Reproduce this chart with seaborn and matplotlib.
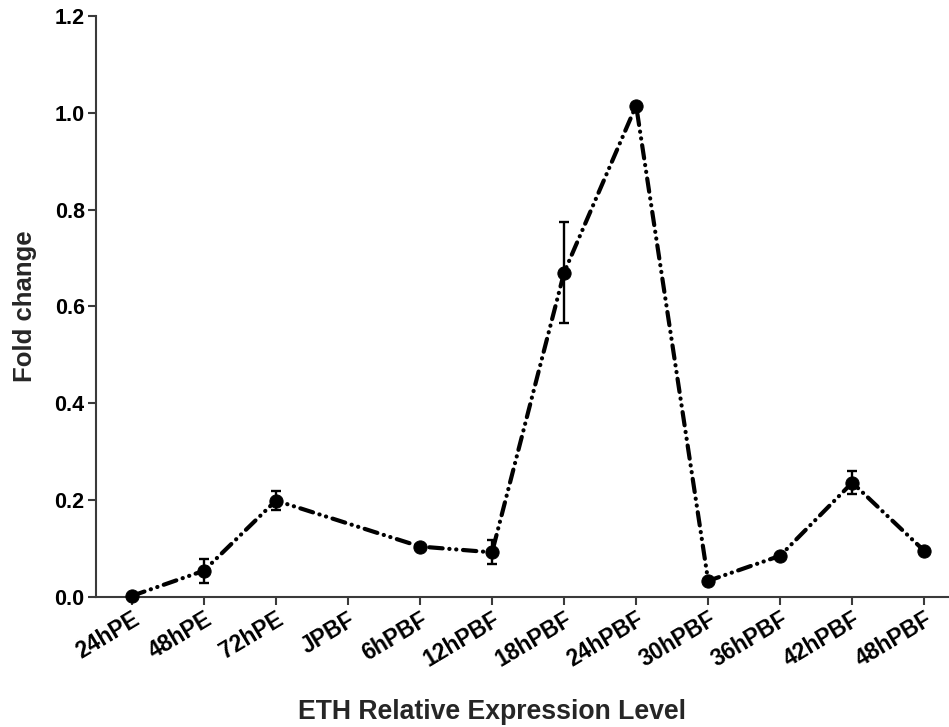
import numpy as np
import pandas as pd
import matplotlib
matplotlib.use("Agg")
import matplotlib.pyplot as plt
import seaborn as sns

# Sampling stages along the x axis
stages = ["24hPE", "48hPE", "72hPE", "JPBF", "6hPBF", "12hPBF",
          "18hPBF", "24hPBF", "30hPBF", "36hPBF", "42hPBF", "48hPBF"]
# Mean fold change per stage (JPBF not measured)
fold_change = [0.002, 0.054, 0.199, np.nan, 0.104, 0.092,
               0.670, 1.015, 0.033, 0.085, 0.236, 0.095]
# Standard error per stage
sem = [0.003, 0.025, 0.020, np.nan, 0.005, 0.025,
       0.105, 0.005, 0.004, 0.004, 0.024, 0.004]

y_ticks = [0.0, 0.2, 0.4, 0.6, 0.8, 1.0, 1.2]

df = pd.DataFrame({"stage": stages, "pos": np.arange(len(stages)),
                   "fold": fold_change, "sem": sem}).dropna()

sns.set_theme(style="ticks")
plt.rcParams["font.family"] = ["Liberation Sans", "DejaVu Sans"]
plt.rcParams["font.weight"] = "bold"

fig = plt.figure(figsize=(9.49, 7.27), dpi=100)
ax = fig.add_axes([0.101, 0.179, 0.898, 0.799])

axis_color = "#3a3a3a"

ax.errorbar(df["pos"], df["fold"], yerr=df["sem"], fmt="none",
            ecolor="black", elinewidth=1.7, capsize=3.5, capthick=1.7,
            clip_on=False, zorder=3)

sns.lineplot(data=df, x="pos", y="fold", ax=ax, color="black",
             linewidth=3.0, marker="o", markersize=9.5,
             markeredgecolor="black", markerfacecolor="black",
             linestyle=(0, (3.2, 1.6, 0.05, 1.6, 0.05, 1.6)),
             dash_capstyle="round", clip_on=False, zorder=4,
             errorbar=None, sort=True)

ax.set_xlim(-0.5, 11.33)
ax.set_ylim(0, 1.2)
ax.set_yticks(y_ticks)
ax.set_yticklabels([f"{v:.1f}" for v in y_ticks], fontsize=15.5, fontweight="bold")
ax.set_xticks(np.arange(len(stages)))
ax.set_xticklabels(stages, rotation=31, ha="right", rotation_mode="anchor",
                   fontsize=16.5, fontweight="bold")

sns.despine(ax=ax)
for side in ("left", "bottom"):
    ax.spines[side].set_color(axis_color)
    ax.spines[side].set_linewidth(1.5)
ax.tick_params(axis="both", direction="out", length=6, width=1.5,
               color=axis_color, labelcolor="black", pad=2)

ax.set_xlabel("ETH Relative Expression Level", fontsize=19.2, fontweight="bold")
ax.set_ylabel("Fold change", fontsize=18.5, fontweight="bold")
ax.xaxis.set_label_coords(0.465, -0.175)
ax.yaxis.set_label_coords(-0.069, 0.5)

fig.savefig("out.png", dpi=100, facecolor="white")
